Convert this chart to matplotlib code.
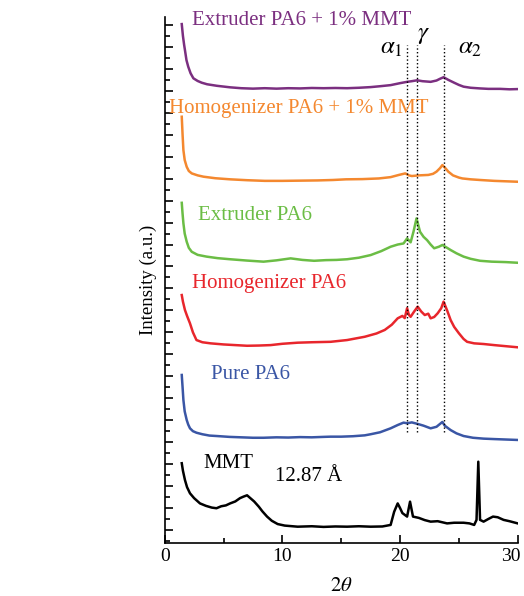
import numpy as np
from matplotlib import pyplot as plt
from matplotlib.ticker import MultipleLocator, FixedLocator, FixedFormatter

plt.rcParams['font.family'] = ['Liberation Serif', 'DejaVu Serif']
plt.rcParams['mathtext.fontset'] = 'stix'

# XRD patterns (2theta, stacked intensity in a.u.)
mmt_x = [1.45, 1.55, 1.72, 1.9, 2.15, 2.5, 3.0, 3.5, 4.0, 4.4, 4.8, 5.2, 5.56, 6.0, 6.4,
         6.7, 7.0, 7.3, 7.6, 8.0, 8.3, 8.7, 9.1, 9.6, 10.2, 11.3, 12.5, 13.5, 14.5, 15.5,
         16.5, 17.5, 18.5, 19.2, 19.5, 19.8, 20.0, 20.2, 20.6, 20.85, 21.1, 21.6, 22.1,
         22.6, 23.2, 24.0, 24.6, 25.4, 25.9, 26.3, 26.5, 26.65, 26.8, 27.1, 27.5, 27.9,
         28.3, 28.8, 29.3, 30.0]
mmt_y = [3.04, 2.7, 2.28, 1.95, 1.67, 1.45, 1.21, 1.1, 1.02, 0.99, 1.08, 1.12, 1.21, 1.3, 1.45,
         1.52, 1.58, 1.44, 1.3, 1.06, 0.85, 0.61, 0.42, 0.27, 0.2, 0.15, 0.17, 0.14, 0.16, 0.15,
         0.17, 0.15, 0.16, 0.23, 0.83, 1.21, 1.0, 0.77, 0.61, 1.29, 0.61, 0.55, 0.45,
         0.38, 0.4, 0.3, 0.33, 0.33, 0.3, 0.23, 0.46, 3.11, 0.46, 0.38, 0.5, 0.61,
         0.58, 0.46, 0.4, 0.3]

pure_x = [1.45, 1.52, 1.59, 1.7, 1.87, 2.0, 2.15, 2.4, 2.7, 3.2, 3.8, 4.4, 5.5, 6.5, 7.5,
          8.4, 9.5, 10.5, 11.5, 12.5, 13.5, 14.1, 15.0, 16.0, 17.0, 17.5, 18.3, 19.2, 19.8,
          20.3, 20.6, 21.0, 21.5, 22.0, 22.6, 23.1, 23.6, 23.8, 24.3, 24.8, 25.4, 26.2,
          27.1, 28.0, 29.0, 30.0]
pure_y = [7.06, 6.5, 5.92, 5.4, 5.01, 4.8, 4.63, 4.5, 4.43, 4.36, 4.3, 4.28, 4.24, 4.22, 4.2,
          4.2, 4.22, 4.21, 4.23, 4.22, 4.24, 4.25, 4.25, 4.27, 4.31, 4.36, 4.45, 4.63, 4.78,
          4.89, 4.86, 4.9, 4.83, 4.75, 4.63, 4.7, 4.92, 4.75, 4.55, 4.4, 4.28, 4.2,
          4.16, 4.14, 4.12, 4.1]

homo_x = [1.45, 1.55, 1.72, 1.9, 2.15, 2.4, 2.7, 3.2, 3.9, 5.0, 6.0, 7.0, 8.0, 9.0, 10.0,
          11.3, 12.5, 14.1, 15.5, 17.0, 18.0, 18.7, 19.3, 19.8, 20.2, 20.4, 20.6, 20.75, 20.9, 21.2,
          21.5, 21.8, 22.1, 22.4, 22.6, 22.9, 23.2, 23.5, 23.7, 24.0, 24.3, 24.6, 25.0,
          25.4, 25.7, 26.3, 27.1, 28.0, 29.0, 30.0]
homo_y = [10.7, 10.4, 10.02, 9.75, 9.41, 9.0, 8.65, 8.55, 8.5, 8.45, 8.42, 8.39, 8.4, 8.42, 8.48,
          8.53, 8.55, 8.57, 8.65, 8.8, 8.95, 9.11, 9.35, 9.64, 9.75, 9.65, 10.1, 9.8, 9.71, 9.95,
          10.17, 9.95, 9.79, 9.85, 9.64, 9.7, 9.87, 10.1, 10.4, 10.0, 9.56, 9.25, 8.96,
          8.7, 8.57, 8.5, 8.47, 8.42, 8.37, 8.32]

ext_x = [1.45, 1.52, 1.59, 1.7, 1.87, 2.05, 2.3, 2.8, 3.56, 4.5, 5.56, 7.0, 8.4, 9.5, 10.7,
         11.7, 12.7, 13.7, 14.6, 15.5, 16.5, 17.5, 18.4, 19.2, 19.8, 20.3, 20.6, 20.9,
         21.15, 21.4, 21.7, 22.0, 22.3, 22.6, 22.9, 23.3, 23.6, 24.0, 24.3, 24.8, 25.4,
         26.0, 26.8, 27.8, 29.0, 30.0]
ext_y = [14.9, 14.4, 13.97, 13.5, 13.13, 12.85, 12.67, 12.53, 12.45, 12.38, 12.33, 12.27, 12.22, 12.28, 12.37,
         12.3, 12.26, 12.29, 12.3, 12.33, 12.4, 12.52, 12.7, 12.9, 13.0, 13.05, 13.28, 13.1,
         13.6, 14.19, 13.58, 13.35, 13.2, 13.0, 12.83, 12.9, 12.98, 12.85, 12.75, 12.6, 12.45,
         12.35, 12.26, 12.22, 12.2, 12.17]

hmmt_x = [1.45, 1.52, 1.59, 1.7, 1.87, 2.05, 2.3, 2.8, 3.3, 4.3, 5.56, 7.0, 8.5, 10.0, 11.5,
          13.0, 14.3, 15.4, 16.8, 18.2, 19.2, 19.9, 20.45, 20.75, 21.0, 21.6, 22.4, 22.8,
          23.1, 23.4, 23.6, 23.9, 24.1, 24.5, 25.0, 25.3, 26.0, 26.8, 28.0, 29.0, 30.0]
hmmt_y = [18.82, 18.0, 17.3, 16.85, 16.54, 16.35, 16.24, 16.15, 16.09, 16.02, 15.97, 15.93, 15.9, 15.9, 15.91,
          15.92, 15.94, 15.97, 15.98, 16.01, 16.07, 16.17, 16.24, 16.15, 16.12, 16.15, 16.17, 16.22,
          16.32, 16.48, 16.62, 16.45, 16.32, 16.15, 16.05, 16.01, 15.97, 15.94, 15.9, 15.88, 15.86]

emmt_x = [1.45, 1.55, 1.65, 1.72, 1.85, 2.0, 2.2, 2.44, 2.8, 3.15, 3.6, 4.43, 5.56, 6.5, 7.5,
          8.5, 9.5, 10.5, 11.5, 12.5, 13.5, 14.5, 15.5, 16.5, 17.5, 18.3, 19.2, 20.0, 20.6,
          21.0, 21.45, 21.9, 22.6, 23.1, 23.4, 23.7, 24.1, 24.6, 25.0, 25.4, 26.0, 26.8,
          27.5, 28.5, 29.3, 30.0]
emmt_y = [23.04, 22.5, 22.1, 21.86, 21.4, 21.1, 20.8, 20.57, 20.45, 20.37, 20.3, 20.23, 20.16, 20.12, 20.1,
          20.12, 20.1, 20.12, 20.11, 20.13, 20.12, 20.13, 20.12, 20.14, 20.17, 20.21, 20.26, 20.35, 20.41,
          20.44, 20.48, 20.44, 20.41, 20.47, 20.55, 20.62, 20.5, 20.37, 20.27, 20.19, 20.14, 20.11,
          20.09, 20.09, 20.07, 20.08]

series = [
    (mmt_x, mmt_y, 'black'),
    (pure_x, pure_y, '#3a56a5'),
    (homo_x, homo_y, '#e8262c'),
    (ext_x, ext_y, '#6bbd45'),
    (hmmt_x, hmmt_y, '#f4882f'),
    (emmt_x, emmt_y, '#7b2f80'),
]

labels = [
    ("MMT", 3.28, 3.04, 'black'),
    ("Pure PA6", 3.97, 7.06, '#3a56a5'),
    ("Homogenizer PA6", 2.29, 11.23, '#e8262c'),
    ("Extruder PA6", 2.86, 14.34, '#6bbd45'),
    ("Homogenizer PA6 + 1% MMT", 0.39, 19.2, '#f4882f'),
    ("Extruder PA6 + 1% MMT", 2.3, 23.19, '#7b2f80'),
]

peak_pos = [20.55, 21.45, 23.75]
xtick_vals = [0, 10, 20, 30]

fig = plt.figure(figsize=(5.24, 5.96), dpi=100)
ax = fig.add_axes([0.3143, 0.0894, 0.6737, 0.8816])

for x, y, c in series:
    ax.plot(x, y, color=c, linewidth=1.8)

for p in peak_pos:
    ax.plot([p, p], [4.45, 22.1], color='black', linestyle=':', linewidth=1.0)

for txt, x, y, c in labels:
    ax.text(x, y, txt, color=c, fontsize=15, va='center', ha='left')

ax.text(9.37, 2.43, "12.87 Å", fontsize=15, va='center', ha='left')
ax.text(18.3, 21.93, r"$\alpha_1$", fontsize=18, va='center', ha='left')
ax.text(21.98, 22.54, r"$\gamma$", fontsize=18, va='center', ha='center')
ax.text(24.95, 21.93, r"$\alpha_2$", fontsize=18, va='center', ha='left')

ax.set_xlim(0, 30)
ax.set_ylim(-0.58, 23.35)
ax.xaxis.set_major_locator(FixedLocator(xtick_vals))
# last label drawn separately so it stays inside the figure
ax.xaxis.set_major_formatter(FixedFormatter([str(v) for v in xtick_vals[:-1]] + ['']))
ax.xaxis.set_minor_locator(MultipleLocator(5))
ax.yaxis.set_major_locator(MultipleLocator(1))
ax.yaxis.set_minor_locator(MultipleLocator(0.5))
ax.tick_params(which='both', direction='in', width=1.2, labelsize=14)
ax.tick_params(which='major', length=6)
ax.tick_params(which='minor', length=3.5)
ax.tick_params(axis='y', labelleft=False)
ax.spines['top'].set_visible(False)
ax.spines['right'].set_visible(False)
ax.spines['left'].set_linewidth(1.2)
ax.spines['bottom'].set_linewidth(1.2)

ax.annotate(str(xtick_vals[-1]), xy=(xtick_vals[-1], 0), xycoords=('data', 'axes fraction'),
            xytext=(-5, -3.5), textcoords='offset points', ha='center', va='top', fontsize=14)

ax.set_xlabel(r"$2\theta$", fontsize=15, labelpad=9)
ax.set_ylabel("Intensity (a.u.)", fontsize=13.5, labelpad=2)

plt.savefig("out.png", dpi=100)
